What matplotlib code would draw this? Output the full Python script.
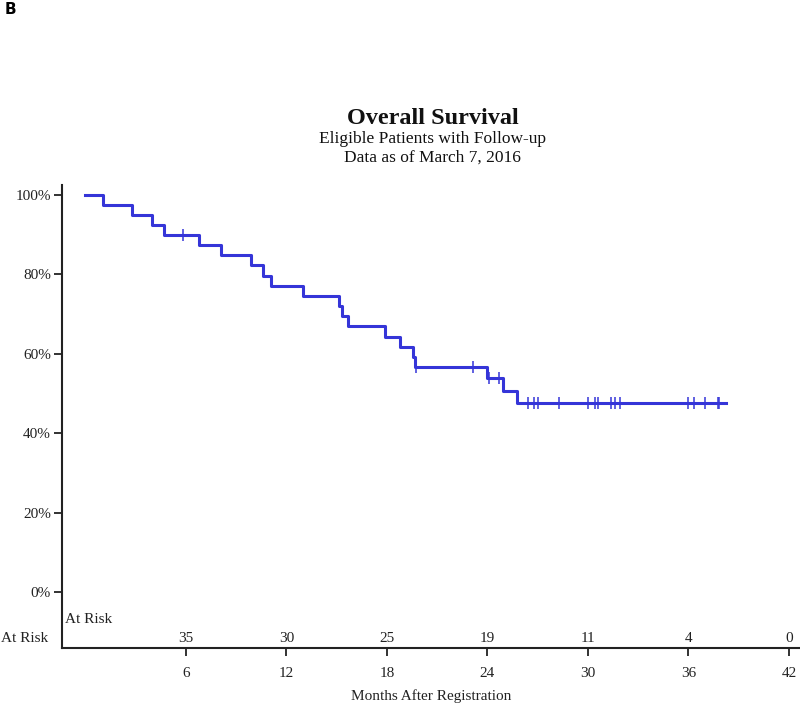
import numpy as np
import matplotlib.pyplot as plt

plt.rcParams['font.family'] = ['Liberation Serif', 'DejaVu Serif']

# Kaplan-Meier steps (months, % surviving)
event_times = [0, 1.04, 2.78, 3.95, 4.7, 6.78, 8.1, 9.9, 10.6, 11.1, 13.0, 15.15, 15.3,
               15.7, 17.9, 18.8, 19.57, 19.7, 23.95, 24.94, 25.74]
surv = [100, 97.5, 95, 92.5, 90, 87.4, 84.9, 82.3, 79.7, 77.1, 74.6, 72.0, 69.4,
        66.9, 64.3, 61.7, 59.1, 56.6, 53.8, 50.6, 47.5]
last_followup = 38.24
censor_times = [5.84, 19.72, 23.15, 24.1, 24.7, 26.4, 26.8, 27.0, 28.3, 30.0, 30.4, 30.6,
                31.4, 31.6, 31.9, 35.95, 36.35, 36.99, 37.78, 37.85]

risk_months = [6, 12, 18, 24, 30, 36, 42]
at_risk = [35, 30, 25, 19, 11, 4, 0]

blue = '#3535d8'

fig = plt.figure(figsize=(8, 7.07), dpi=100)
ax = fig.add_axes([0.0775, 0.0834, 0.9225, 0.6549])

t = event_times + [last_followup]
s = surv + [surv[-1]]
ax.step(t, s, where='post', color=blue, lw=2.2)

idx = np.searchsorted(event_times, censor_times, side='right') - 1
cs = [surv[i] for i in idx]
ax.plot(censor_times, cs, ls='none', marker='|', ms=8, mew=1.1, color=blue)

ax.set_xlim(-1.4, 42.66)
ax.set_ylim(-14.1, 102.5)
ax.set_yticks([0, 20, 40, 60, 80, 100])
ax.set_yticklabels([f'{v}%' for v in [0, 20, 40, 60, 80, 100]])
ax.set_xticks(risk_months)
ax.tick_params(axis='both', direction='out', length=6, width=1.3, labelsize=11, colors='#222222')
ax.tick_params(axis='x', pad=8)
ax.tick_params(axis='y', pad=2)
for side in ['top', 'right']:
    ax.spines[side].set_visible(False)
for side in ['left', 'bottom']:
    ax.spines[side].set_linewidth(1.5)
    ax.spines[side].set_color('#222222')

for m, n in zip(risk_months, at_risk):
    ax.text(m, -11.6, str(n), ha='center', va='center', fontsize=11, color='#222222')
ax.text(-1.25, -6.8, 'At Risk', ha='left', va='center', fontsize=11, color='#222222')
ax.text(-2.25, -11.6, 'At Risk', ha='right', va='center', fontsize=11,
        color='#222222', clip_on=False)

ax.set_xlabel('Months After Registration', fontsize=11, color='#222222', labelpad=6)

fig.text(0.541, 1 - 118 / 707, 'Overall Survival', ha='center', va='center',
         fontsize=17.5, fontweight='bold', color='#111111')
fig.text(0.541, 1 - 139 / 707, 'Eligible Patients with Follow-up', ha='center',
         va='center', fontsize=12.5, color='#111111')
fig.text(0.541, 1 - 158 / 707, 'Data as of March 7, 2016', ha='center', va='center',
         fontsize=12.5, color='#111111')
fig.text(0.006, 1 - 10 / 707, 'B', ha='left', va='center', fontsize=11,
         fontweight='bold', family='DejaVu Sans')

fig.savefig('out.png', dpi=100)
